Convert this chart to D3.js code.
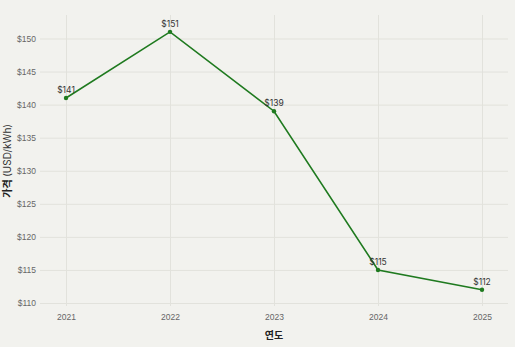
<!DOCTYPE html>
<html>
<head>
<meta charset="utf-8">
<script src="https://cdn.jsdelivr.net/npm/d3@7"></script>
<style>
  body { margin: 0; background: #f2f2ee; }
  svg { display: block; font-family: "Inter", "Noto Sans CJK KR", sans-serif; }
</style>
</head>
<body>
<svg id="chart" width="515" height="347"></svg>
<script>
var years  = [2021, 2022, 2023, 2024, 2025];
var prices = [141, 151, 139, 115, 112];
var yTicks = [110, 115, 120, 125, 130, 135, 140, 145, 150];

var svg = d3.select("#chart");
var margin = {top: 15, right: 7, bottom: 41, left: 40},
    width  = 515 - margin.left - margin.right,
    height = 347 - margin.top - margin.bottom;

svg.append("rect").attr("width", 515).attr("height", 347).attr("fill", "#f2f2ee");

var g = svg.append("g").attr("transform", "translate(" + margin.left + "," + margin.top + ")");

var x = d3.scaleLinear().domain([2020.75, 2025.25]).range([0, width]);
var y = d3.scaleLinear().domain([109.55, 153.55]).range([height, 0]);

// grid
g.append("g")
    .attr("transform", "translate(0," + height + ")")
    .call(d3.axisBottom(x).tickValues(years).tickSize(-height).tickFormat(""))
    .call(function(a) { a.select(".domain").remove(); })
    .selectAll("line").attr("stroke", "#e2e2dc").attr("stroke-width", 1);

g.append("g")
    .call(d3.axisLeft(y).tickValues(yTicks).tickSize(-width).tickFormat(""))
    .call(function(a) { a.select(".domain").remove(); })
    .selectAll("line").attr("stroke", "#e2e2dc").attr("stroke-width", 1);

// tick labels
var xAx = g.append("g")
    .attr("transform", "translate(0," + height + ")")
    .call(d3.axisBottom(x).tickValues(years).tickSize(0).tickPadding(8).tickFormat(d3.format("d")));
xAx.select(".domain").remove();
xAx.selectAll("text").attr("fill", "#666").style("font-size", "8.5px");

var yAx = g.append("g")
    .call(d3.axisLeft(y).tickValues(yTicks).tickSize(0).tickPadding(4).tickFormat(function(d) { return "$" + d; }));
yAx.select(".domain").remove();
yAx.selectAll("text").attr("fill", "#666").style("font-size", "8.5px");

// line
var line = d3.line()
    .x(function(d, i) { return x(years[i]); })
    .y(function(d) { return y(d); });

g.append("path")
    .datum(prices)
    .attr("fill", "none")
    .attr("stroke", "#1f7a1f")
    .attr("stroke-width", 1.6)
    .attr("d", line);

g.selectAll(".dot")
    .data(prices)
    .enter().append("circle")
    .attr("cx", function(d, i) { return x(years[i]); })
    .attr("cy", function(d) { return y(d); })
    .attr("r", 2.2)
    .attr("fill", "#1f7a1f");

g.selectAll(".lbl")
    .data(prices)
    .enter().append("text")
    .attr("x", function(d, i) { return x(years[i]); })
    .attr("y", function(d) { return y(d) - 5; })
    .attr("text-anchor", "middle")
    .attr("fill", "#333")
    .style("font-size", "8.5px")
    .text(function(d) { return "$" + d; });

// axis titles
svg.append("text")
    .attr("x", margin.left + x(2023))
    .attr("y", 339)
    .attr("text-anchor", "middle")
    .attr("fill", "#222")
    .style("font-size", "10px")
    .style("font-weight", "bold")
    .text("연도");

var yt = svg.append("text")
    .attr("transform", "translate(11," + (margin.top + y(131.5)) + ") rotate(-90)")
    .attr("text-anchor", "middle")
    .attr("fill", "#222")
    .style("font-size", "10px");
yt.append("tspan").style("font-weight", "bold").text("가격 ");
yt.append("tspan").attr("fill", "#333").text("(USD/kWh)");
</script>
</body>
</html>
